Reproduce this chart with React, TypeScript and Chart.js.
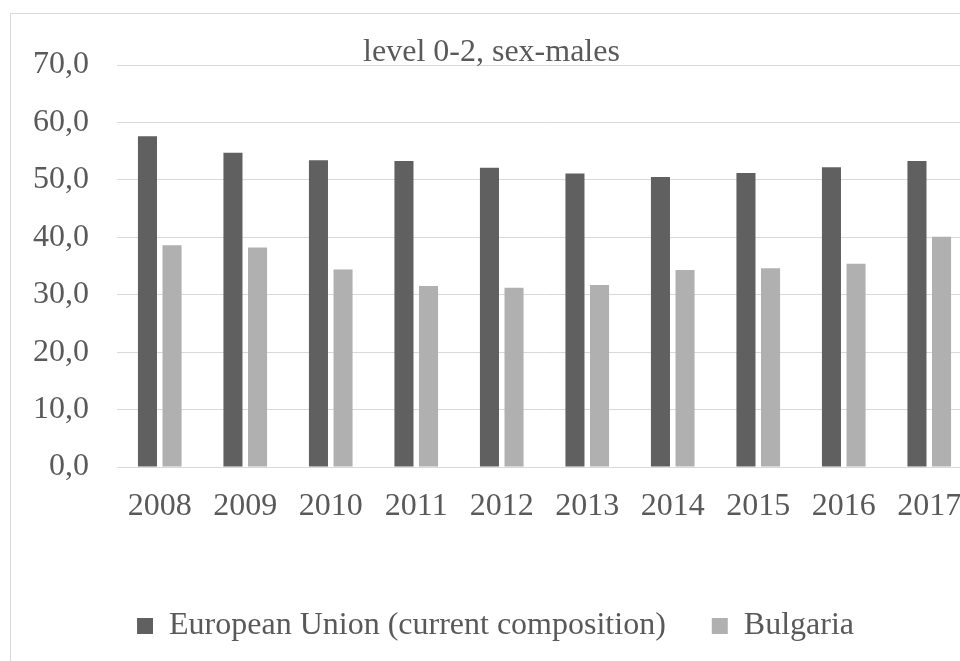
import React, { useEffect, useRef } from "react";
import { Chart, registerables } from "chart.js";

Chart.register(...registerables);

// Years on the category axis
const years = ["2008", "2009", "2010", "2011", "2012", "2013", "2014", "2015", "2016", "2017"];

// Share (%) per series
const euValues = [57.6, 54.7, 53.4, 53.3, 52.1, 51.1, 50.5, 51.2, 52.2, 53.3];
const bgValues = [38.6, 38.2, 34.4, 31.5, 31.2, 31.7, 34.3, 34.6, 35.4, 40.1];

const seriesNames = ["European Union (current composition)", "Bulgaria"];
const chartTitle = "level 0-2, sex-males";

// Value axis range
const yMin = 0;
const yMax = 70;
const yStep = 10;

const TEXT = "#595959";
const GRID = "#d9d9d9";
const FONT = "'Liberation Serif', 'Times New Roman', serif";

const CANVAS_W = 966;
const CANVAS_H = 660;

// Nudges the legend row sideways after layout so it sits a little right of centre
const legendShift = {
  id: "legendShift",
  afterLayout(chart: any) {
    const lg = chart.legend;
    if (lg) {
      lg.left += 4;
      lg.right += 4;
    }
  },
};

export default function App() {
  const canvasRef = useRef<HTMLCanvasElement | null>(null);

  useEffect(() => {
    const canvas = canvasRef.current;
    if (!canvas) return;
    const chart = new Chart(canvas, {
      type: "bar",
      data: {
        labels: years,
        datasets: [
          {
            label: seriesNames[0],
            data: euValues,
            backgroundColor: "#606060",
            borderWidth: 0,
            categoryPercentage: 0.575,
            barPercentage: 0.775,
          },
          {
            label: seriesNames[1],
            data: bgValues,
            backgroundColor: "#b0b0b0",
            borderWidth: 0,
            categoryPercentage: 0.575,
            barPercentage: 0.775,
          },
        ],
      },
      options: {
        responsive: false,
        animation: false,
        devicePixelRatio: 1,
        layout: { padding: { left: 0, right: 5, top: 0, bottom: 22 } },
        plugins: {
          tooltip: { enabled: false },
          title: {
            display: true,
            text: chartTitle,
            color: TEXT,
            font: { family: FONT, size: 32, weight: "normal", lineHeight: 0.75 },
            padding: { top: 27, bottom: 0 },
          },
          legend: {
            display: true,
            position: "bottom",
            labels: {
              color: TEXT,
              font: { family: FONT, size: 32 },
              boxWidth: 16,
              boxHeight: 16,
              padding: 46,
            },
          },
        },
        scales: {
          x: {
            grid: { display: false },
            border: { display: false },
            ticks: {
              color: TEXT,
              font: { family: FONT, size: 32 },
              padding: 12,
              maxRotation: 0,
              autoSkip: false,
            },
            afterFit: (scale: any) => {
              scale.height = 97;
            },
          },
          y: {
            min: yMin,
            max: yMax,
            grid: { color: GRID, lineWidth: 1, drawTicks: false },
            border: { display: false },
            ticks: {
              stepSize: yStep,
              color: TEXT,
              font: { family: FONT, size: 32 },
              padding: 28,
              callback: (v: any) => Number(v).toFixed(1).replace(".", ","),
            },
            afterFit: (scale: any) => {
              scale.width = 106;
            },
          },
        },
      },
      plugins: [legendShift],
    });
    return () => chart.destroy();
  }, []);

  return (
    <div
      style={{
        position: "fixed",
        left: 0,
        top: 0,
        width: 960,
        height: 661,
        overflow: "hidden",
        background: "#ffffff",
      }}
    >
      <div
        style={{
          position: "absolute",
          left: 10,
          top: 13,
          border: `1px solid ${GRID}`,
          width: CANVAS_W,
          height: CANVAS_H,
          background: "#ffffff",
        }}
      >
        <canvas ref={canvasRef} width={CANVAS_W} height={CANVAS_H} style={{ display: "block" }} />
      </div>
    </div>
  );
}
